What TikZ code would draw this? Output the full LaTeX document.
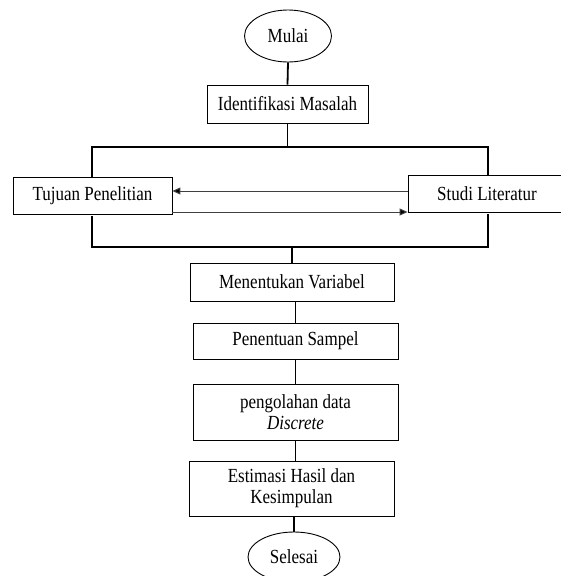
\documentclass[tikz,border=0pt]{standalone}
\usepackage{fontspec}
\setmainfont{Liberation Serif}[FakeStretch=0.85]
\usetikzlibrary{shapes.geometric,arrows.meta}
\begin{document}
\begin{tikzpicture}[x=1pt,y=-1pt,
  txt/.style={font=\fontsize{20}{21}\selectfont, align=center, inner sep=0pt},
  box/.style={txt, draw, line width=0.9pt, rectangle},
  oval/.style={txt, draw, line width=0.9pt, ellipse},
  link/.style={line width=1.8pt},
  flow/.style={line width=1pt, draw=black!75, -{Triangle[length=8pt,width=7pt,fill=black]}}]
\useasboundingbox (0,0) rectangle (561,576);
\clip (0,0) rectangle (561,576);
\node[oval, minimum width=87pt, minimum height=52pt] (mulai) at (288,36) {Mulai};
\node[box, minimum width=161pt, minimum height=38pt] (ident) at (287.5,104) {Identifikasi Masalah};
\node[box, minimum width=159pt, minimum height=37pt] (tujuan) at (92.5,195.5) {Tujuan Penelitian};
\node[box, minimum width=158pt, minimum height=37pt] (studi) at (487,193.5) {Studi Literatur};
\node[box, minimum width=204pt, minimum height=38pt] (menentukan) at (292,282) {Menentukan Variabel};
\node[box, minimum width=205pt, minimum height=36pt] (penentuan) at (295.5,341) {Penentuan Sampel};
\node[box, minimum width=205pt, minimum height=56pt] (olah) at (295.5,412) {pengolahan data\\\textit{Discrete}};
\node[box, minimum width=205pt, minimum height=55pt] (estimasi) at (291.5,488.5) {Estimasi Hasil dan\\Kesimpulan};
\node[oval, minimum width=92pt, minimum height=50pt] (selesai) at (294,557) {Selesai};
\coordinate (tl) at (92,147);
\coordinate (tr) at (488,147);
\coordinate (bl) at (92,247);
\coordinate (br) at (488,247);
\draw[link] (mulai.south) -- (ident.north);
\draw[link] (ident.south) -- (ident.south |- tl);
\draw[link] (tujuan.north -| tl) -- (tl) -- (tr) -- (studi.north -| tr);
\draw[link] ([yshift=-2pt]tujuan.south -| bl) -- (bl) -- (br) -- ([yshift=-2pt]studi.south -| br);
\draw[link] (menentukan.north |- bl) -- (menentukan.north);
\draw[link] (menentukan.south -| penentuan.north) -- (penentuan.north);
\draw[link] (penentuan.south) -- (olah.north);
\draw[link] (olah.south) -- (olah.south |- estimasi.north);
\draw[link] (estimasi.south -| selesai.north) -- (selesai.north);
\draw[flow] (studi.west |- 0,191) -- (tujuan.east |- 0,191);
\draw[flow] (tujuan.east |- 0,212) -- (studi.west |- 0,212);
\end{tikzpicture}
\end{document}
